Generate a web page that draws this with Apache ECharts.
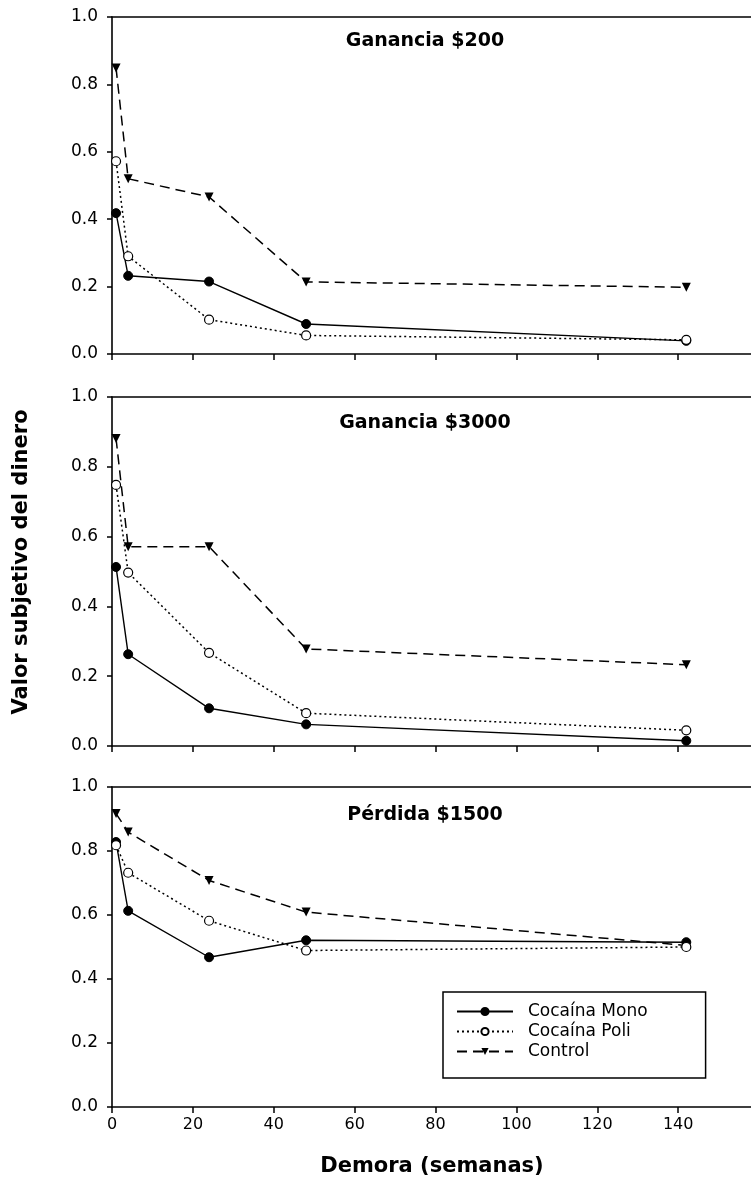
<!DOCTYPE html>
<html>
<head>
<meta charset="utf-8">
<script src="https://cdn.jsdelivr.net/npm/echarts@6/dist/echarts.min.js"></script>
<style>
  html, body { margin: 0; padding: 0; background: #fff; }
  #chart { width: 751px; height: 1187px; }
</style>
</head>
<body>
<div id="chart"></div>
<script>
// delay in weeks
const weeks = [1, 4, 24, 48, 142];
const xTicks = [0, 20, 40, 60, 80, 100, 120, 140];

const panelTitles = ['Ganancia $200', 'Ganancia $3000', 'Pérdida $1500'];
const seriesNames = ['Cocaína Mono', 'Cocaína Poli', 'Control'];

// subjective value per panel
const gain200Mono = [0.418, 0.232, 0.215, 0.089, 0.039];
const gain200Poli = [0.572, 0.290, 0.102, 0.055, 0.042];
const gain200Control = [0.849, 0.520, 0.466, 0.214, 0.198];

const gain3000Mono = [0.513, 0.263, 0.108, 0.062, 0.015];
const gain3000Poli = [0.748, 0.497, 0.267, 0.094, 0.045];
const gain3000Control = [0.881, 0.571, 0.571, 0.278, 0.233];

const loss1500Mono = [0.828, 0.613, 0.468, 0.521, 0.515];
const loss1500Poli = [0.818, 0.732, 0.582, 0.489, 0.500];
const loss1500Control = [0.917, 0.859, 0.708, 0.609, 0.505];

const panels = [
  [gain200Mono, gain200Poli, gain200Control],
  [gain3000Mono, gain3000Poli, gain3000Control],
  [loss1500Mono, loss1500Poli, loss1500Control]
];

const FONT = '"DejaVu Sans"';
const grids = [
  { left: 112, right: 0, top: 17, height: 337 },
  { left: 112, right: 0, top: 397, height: 349 },
  { left: 112, right: 0, top: 787, height: 320 }
];

const axisLine = { lineStyle: { color: '#000', width: 1.6 } };

const xAxes = [];
const yAxes = [];
grids.forEach((g, i) => {
  xAxes.push({
    type: 'value', gridIndex: i, min: 0, max: 158, interval: 20,
    axisLine: { show: true, onZero: false, ...axisLine },
    axisTick: { show: true, inside: false, length: 6, lineStyle: { color: '#000', width: 1.5 },
      customValues: xTicks },
    axisLabel: {
      show: i === 2, color: '#000', fontFamily: FONT, fontSize: 16, margin: 10,
      customValues: xTicks
    },
    splitLine: { show: false }
  });
  // top border line
  xAxes.push({
    type: 'value', gridIndex: i, position: 'top', min: 0, max: 158,
    axisLine: { show: true, onZero: false, ...axisLine },
    axisTick: { show: false }, axisLabel: { show: false }, splitLine: { show: false }
  });
  yAxes.push({
    type: 'value', gridIndex: i, min: 0, max: 1, interval: 0.2,
    axisLine: { show: true, onZero: false, ...axisLine },
    axisTick: { show: true, inside: false, length: 5, lineStyle: { color: '#000', width: 1.5 } },
    axisLabel: {
      color: '#000', fontFamily: FONT, fontSize: 17, margin: 14,
      formatter: v => v.toFixed(1)
    },
    splitLine: { show: false }
  });
});

const styles = [
  { symbol: 'circle', symbolSize: 9, itemStyle: { color: '#000', borderColor: '#000', borderWidth: 1 },
    lineStyle: { color: '#000', width: 1.4, type: 'solid' } },
  { symbol: 'circle', symbolSize: 9, itemStyle: { color: '#fff', borderColor: '#000', borderWidth: 1.2 },
    lineStyle: { color: '#000', width: 1.5, type: [2, 3] } },
  { symbol: 'triangle', symbolSize: 9, symbolRotate: 180, itemStyle: { color: '#000', borderColor: '#000', borderWidth: 0 },
    lineStyle: { color: '#000', width: 1.5, type: [10, 6] } }
];

const series = [];
// Control first, then Mono, then Poli so the open circles sit on top
const order = [2, 0, 1];
panels.forEach((panel, p) => {
  order.forEach(k => {
    series.push({
      name: seriesNames[k],
      type: 'line',
      xAxisIndex: p * 2,
      yAxisIndex: p,
      data: weeks.map((w, j) => [w, panel[k][j]]),
      showSymbol: true,
      animation: false,
      ...styles[k]
    });
  });
});

const titleTops = [32, 414, 806];
const titleGraphics = panelTitles.map((t, i) => ({
  type: 'text', x: 425, y: titleTops[i],
  style: { text: t, font: 'bold 19px ' + FONT, fill: '#000', align: 'center', verticalAlign: 'top' }
}));

const option = {
  backgroundColor: '#fff',
  animation: false,
  grid: grids,
  xAxis: xAxes,
  yAxis: yAxes,
  legend: {
    data: seriesNames,
    orient: 'vertical',
    left: 443, top: 992,
    padding: [11, 58, 18, 13],
    itemGap: 3,
    itemWidth: 56, itemHeight: 9,
    borderColor: '#000', borderWidth: 1.5, borderRadius: 0,
    textStyle: { fontFamily: FONT, fontSize: 17, color: '#000', padding: [0, 0, 0, 10] }
  },
  graphic: titleGraphics.concat([
    {
      type: 'text', x: 11, y: 562,
      rotation: Math.PI / 2,
      style: { text: 'Valor subjetivo del dinero', font: 'bold 21px ' + FONT, fill: '#000',
        align: 'center', verticalAlign: 'top' }
    },
    {
      type: 'text', x: 432, y: 1156,
      style: { text: 'Demora (semanas)', font: 'bold 21px ' + FONT, fill: '#000',
        align: 'center', verticalAlign: 'top' }
    }
  ]),
  series: series
};

const chart = echarts.init(document.getElementById('chart'));
chart.setOption(option);
</script>
</body>
</html>
